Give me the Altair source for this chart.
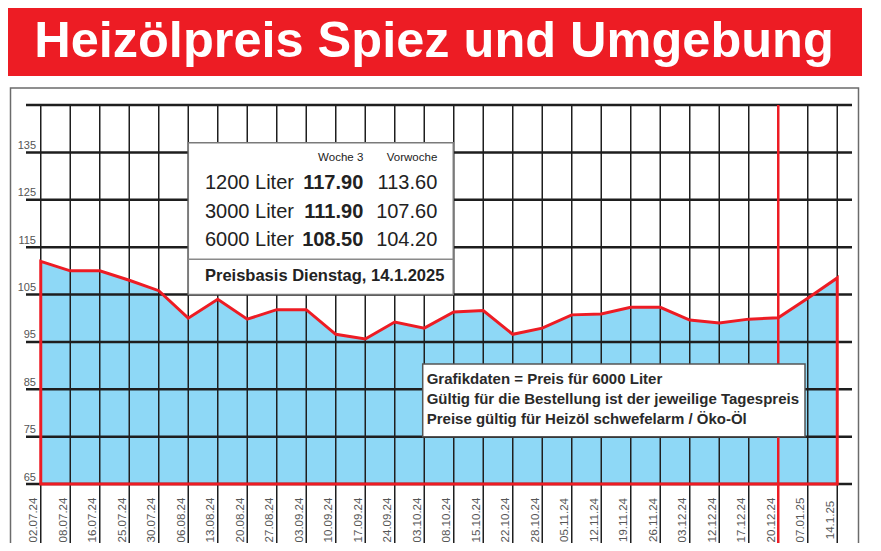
import altair as alt
import pandas as pd

# ---------------- data ----------------
dates = ["02.07.24", "08.07.24", "16.07.24", "25.07.24", "30.07.24", "06.08.24",
         "13.08.24", "20.08.24", "27.08.24", "03.09.24", "10.09.24", "17.09.24",
         "24.09.24", "03.10.24", "08.10.24", "15.10.24", "22.10.24", "28.10.24",
         "05.11.24", "12.11.24", "19.11.24", "26.11.24", "03.12.24", "12.12.24",
         "17.12.24", "20.12.24", "07.01.25", "14.1.25"]
price_6000 = [112.0, 110.0, 110.0, 108.0, 105.8, 100.0, 104.0, 99.8, 101.8, 101.8,
              96.6, 95.6, 99.2, 97.9, 101.3, 101.6, 96.6, 97.9, 100.7, 100.9,
              102.3, 102.3, 99.6, 99.0, 99.8, 100.1, 104.2, 108.5]
y_tick_labels = [65, 75, 85, 95, 105, 115, 125, 135]
grid_levels = [65, 75, 85, 95, 105, 115, 125, 135, 145]
marker_date = "20.12.24"

title_text = "Heizölpreis Spiez und Umgebung"
box_head = ["Woche 3", "Vorwoche"]
box_liters = ["1200 Liter", "3000 Liter", "6000 Liter"]
box_week = ["117.90", "111.90", "108.50"]
box_prev = ["113.60", "107.60", "104.20"]
box_basis = "Preisbasis Dienstag, 14.1.2025"
notes = ["Grafikdaten = Preis für 6000 Liter",
         "Gültig für die Bestellung ist der jeweilige Tagespreis",
         "Preise gültig für Heizöl schwefelarm / Öko-Öl"]

# ---------------- styling ----------------
W, H = 826, 379
RED = "#ED1C24"
BLUE = "#8ED8F6"
GRID = "#1e1e1e"
SANS = "Liberation Sans, Arial, Helvetica, sans-serif"

df = pd.DataFrame({"i": list(range(len(dates))), "date": dates, "price": price_6000})
one = pd.DataFrame({"a": [0]})

xs = alt.Scale(domain=[-0.5, len(dates) - 0.5], nice=False, zero=False)
ys = alt.Scale(domain=[65, 145], nice=False, zero=False)
X = alt.X("i:Q", scale=xs, axis=None)
Y = alt.Y("price:Q", scale=ys, axis=None)

# outer frame
frame = alt.Chart(one).mark_rect(fill="white", stroke="#6b6b6b", strokeWidth=1.5).encode(
    x=alt.value(-15.5), x2=alt.value(832.5), y=alt.value(-17), y2=alt.value(470))

# title banner
banner = alt.Chart(one).mark_rect(color=RED).encode(
    x=alt.value(-19), x2=alt.value(836), y=alt.value(-102), y2=alt.value(-29))
title = alt.Chart(pd.DataFrame({"t": [title_text]})).mark_text(
    font=SANS, fontSize=50.5, fontWeight="bold", color="white", align="center",
    baseline="alphabetic").encode(x=alt.value(408), y=alt.value(-48.5), text="t:N")

# area fill
area_fill = alt.Chart(df).mark_area(color=BLUE, opacity=1).encode(
    x=X, y=Y, y2=alt.datum(65))

# horizontal grid lines
hgrid = alt.Chart(pd.DataFrame({"v": grid_levels})).mark_rule(
    color=GRID, strokeWidth=2.5).encode(
    y=alt.Y("v:Q", scale=ys, axis=None), x=alt.value(0), x2=alt.value(W))

# vertical grid lines
vgrid = alt.Chart(df).mark_rule(color=GRID, strokeWidth=1.5).encode(
    x=X, y=alt.value(0), y2=alt.value(445))

# red outline of the area
area_line = alt.Chart(df).mark_area(fillOpacity=0, stroke=RED, strokeWidth=3,
                                    strokeJoin="miter").encode(
    x=X, y=Y, y2=alt.datum(65))

# red marker vertical
marker = alt.Chart(df).transform_filter(alt.datum.date == marker_date).mark_rule(
    color=RED, strokeWidth=2.5).encode(x=X, y=alt.value(0), y2=alt.value(460))

# y labels
ylab = alt.Chart(pd.DataFrame({"v": y_tick_labels})).mark_text(
    font=SANS, fontSize=11, color="#555555", align="right", baseline="alphabetic",
    dy=-3.5).encode(x=alt.value(10), y=alt.Y("v:Q", scale=ys, axis=None), text="v:Q")

# x labels
xlab = alt.Chart(df).mark_text(
    font=SANS, fontSize=11.5, color="#555555", angle=270, align="center",
    baseline="alphabetic", dy=-3.5).encode(x=X, y=alt.value(415), text="date:N")

# price box
pbox = alt.Chart(one).mark_rect(fill="white", stroke="#7a7a7a", strokeWidth=1.5).encode(
    x=alt.value(162.3), x2=alt.value(427.3), y=alt.value(37.7), y2=alt.value(189.5))
pdiv = alt.Chart(one).mark_rule(color="#8a8a8a", strokeWidth=1.5).encode(
    x=alt.value(162.3), x2=alt.value(427.3), y=alt.value(154.3))
head_df = pd.DataFrame({"t": box_head, "px": [337.3, 411.3]})
phead = alt.Chart(head_df).mark_text(font=SANS, fontSize=11.5, color="#222222",
                                     align="right", baseline="alphabetic").encode(
    x=alt.X("px:Q", scale=None), y=alt.value(55.7), text="t:N")
rows = pd.DataFrame({"lit": box_liters, "wk": box_week, "pv": box_prev,
                     "py": [84.3 + 28.3 * k for k in range(len(box_liters))]})
plit = alt.Chart(rows).mark_text(font=SANS, fontSize=20, color="#222222",
                                 align="left", baseline="alphabetic").encode(
    x=alt.value(179), y=alt.Y("py:Q", scale=None), text="lit:N")
pwk = alt.Chart(rows).mark_text(font=SANS, fontSize=20, fontWeight="bold",
                                color="#222222", align="right", baseline="alphabetic").encode(
    x=alt.value(337.3), y=alt.Y("py:Q", scale=None), text="wk:N")
ppv = alt.Chart(rows).mark_text(font=SANS, fontSize=20, color="#222222",
                                align="right", baseline="alphabetic").encode(
    x=alt.value(411.3), y=alt.Y("py:Q", scale=None), text="pv:N")
pbasis = alt.Chart(pd.DataFrame({"t": [box_basis]})).mark_text(
    font=SANS, fontSize=16.5, fontWeight="bold", color="#222222", align="left",
    baseline="alphabetic").encode(x=alt.value(179), y=alt.value(175.7), text="t:N")

# note box
nbox = alt.Chart(one).mark_rect(fill="white", stroke="#555555", strokeWidth=1.5).encode(
    x=alt.value(396.7), x2=alt.value(779), y=alt.value(259), y2=alt.value(331.7))
note_df = pd.DataFrame({"t": notes, "py": [279.3 + 19.85 * k for k in range(len(notes))]})
ntext = alt.Chart(note_df).mark_text(font=SANS, fontSize=15, fontWeight="bold",
                                     color="#2a2a2a", align="left",
                                     baseline="alphabetic").encode(
    x=alt.value(400.7), y=alt.Y("py:Q", scale=None), text="t:N")

chart = alt.layer(
    frame, banner, title, area_fill, hgrid, vgrid, area_line, marker, ylab, xlab,
    pbox, pdiv, phead, plit, pwk, ppv, pbasis, nbox, ntext
).properties(
    width=W, height=H,
    autosize=alt.AutoSizeParams(type="none"),
    padding={"left": 18, "top": 97, "right": 21, "bottom": 59},
    background="white",
).configure_view(stroke=None)

chart.save("out.html", embed_options={"renderer": "svg", "actions": False})
